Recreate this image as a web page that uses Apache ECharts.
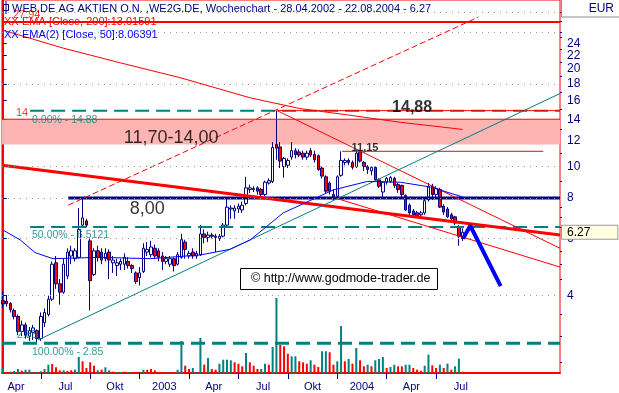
<!DOCTYPE html>
<html><head><meta charset="utf-8">
<script src="https://cdn.jsdelivr.net/npm/echarts@6/dist/echarts.min.js"></script>
<style>html,body{margin:0;padding:0;background:#fff}#c{width:619px;height:393px}</style>
</head><body><div id="c"></div>
<script>
// ---------- DATA ----------
const startDate = '2002-04-28';           // first weekly candle
const quarterStarts = ['2002-04-01','2002-07-01','2002-10-01','2003-01-01','2003-04-01','2003-07-01','2003-10-01','2004-01-01','2004-04-01','2004-07-01','2004-10-01'];
const quarterLabels = ['Apr','Jul','Okt','2003','Apr','Jul','Okt','2004','Apr','Jul'];
const yTickLabels = [4,6,8,10,12,14,16,18,20,22,24];
const yMinorTicks = [2.5,3,3.5,4.5,5,5.5,6.5,7,7.5,9,11,13,15,17,19,21,23,25,26,28,30];
const gridDotLevels = [4,6,8,10,18,26,30];

const open = [
 3.86,3.85,3.78,3.60,3.45,3.10,3.25,3.00,3.08,3.12,
 2.95,3.30,3.50,3.90,5.05,4.35,4.10,4.60,5.30,5.20,
 5.25,6.60,6.80,5.90,4.65,5.50,5.45,5.20,5.45,5.05,
 4.95,5.00,5.00,5.10,4.95,4.70,4.55,4.75,5.45,5.35,
 5.60,5.50,5.30,5.10,5.00,5.20,5.00,5.25,5.85,5.30,
 5.45,5.30,5.35,6.20,6.05,6.15,6.10,6.00,6.10,6.60,
 7.40,7.30,7.40,7.35,7.70,8.50,8.55,8.60,8.50,8.20,
 8.90,9.00,11.70,11.50,10.00,10.10,10.70,11.20,11.10,11.00,
 10.70,11.20,10.90,10.80,9.90,9.30,8.90,8.20,8.10,9.40,
 10.30,10.45,10.30,10.00,11.10,10.30,10.00,9.70,9.95,9.10,
 8.35,8.95,9.00,9.20,8.80,8.75,8.15,7.60,7.30,7.20,
 7.10,7.20,7.90,8.70,8.20,8.50,7.55,7.40,7.10,7.00,
 6.50,6.00];
const high = [
 4.13,4.00,3.82,3.65,3.50,3.35,3.30,3.20,3.25,3.15,
 3.55,3.65,4.00,5.10,5.30,4.50,5.20,5.60,5.70,5.60,
 7.45,7.95,6.90,6.00,5.60,5.70,5.60,5.60,5.55,5.30,
 5.20,5.20,5.40,5.25,5.00,4.75,4.90,5.80,5.85,5.90,
 5.75,5.60,5.45,5.30,5.30,5.25,5.45,6.20,5.95,5.50,
 5.60,5.50,6.60,6.40,6.30,6.25,6.20,6.20,6.70,8.00,
 7.60,7.60,7.70,7.80,9.30,8.80,8.70,8.70,8.60,9.05,
 9.20,11.90,14.88,11.90,10.70,10.60,11.90,11.40,11.30,11.20,
 11.20,11.40,11.20,10.90,10.00,9.40,9.00,8.50,9.40,11.15,
 10.60,10.60,10.45,11.15,11.15,10.40,10.10,10.00,10.00,9.20,
 9.00,9.30,9.35,9.30,8.90,8.80,8.20,7.70,7.40,7.30,
 7.30,8.00,8.90,8.85,8.70,8.60,7.65,7.50,7.20,7.05,
 6.60,6.45];
const low = [
 3.66,3.70,3.55,3.38,3.02,3.00,2.95,2.90,2.92,2.85,
 2.90,3.20,3.45,3.85,4.20,3.75,4.05,4.50,5.00,5.10,
 5.20,6.50,6.50,3.60,4.60,5.10,5.00,5.10,4.50,4.70,
 4.60,4.80,4.80,4.85,4.70,4.35,4.30,4.70,5.30,5.25,
 5.20,5.10,4.80,5.00,4.90,4.75,4.95,5.20,5.20,5.20,
 5.20,5.20,5.30,5.80,5.85,6.00,5.45,5.90,6.05,6.50,
 6.90,6.90,7.20,7.20,7.60,8.30,8.35,8.20,8.00,8.10,
 8.80,8.90,10.50,9.90,9.25,9.90,10.50,10.60,10.70,10.50,
 10.50,10.70,10.30,9.70,9.20,8.30,8.20,7.90,8.00,9.30,
 10.10,10.10,9.80,9.90,10.30,9.70,9.50,9.40,9.05,8.60,
 8.00,8.80,8.90,8.60,8.30,8.00,7.30,7.05,7.00,6.95,
 6.95,7.10,7.80,7.90,8.00,7.45,7.10,6.95,6.80,6.60,
 5.70,5.90];
const close = [
 3.77,3.78,3.62,3.45,3.10,3.25,3.02,3.12,3.18,2.95,
 3.45,3.55,3.90,5.00,4.35,4.10,5.00,5.45,5.50,5.50,
 6.40,6.95,6.60,4.45,5.50,5.25,5.15,5.40,5.15,5.15,
 5.05,5.10,5.25,4.95,4.85,4.42,4.70,5.60,5.55,5.65,
 5.30,5.25,5.10,5.20,5.20,4.95,5.35,5.95,5.55,5.40,
 5.30,5.40,6.20,6.05,6.15,6.10,6.05,6.10,6.60,7.50,
 7.45,7.45,7.55,7.60,8.60,8.60,8.50,8.40,8.20,8.95,
 9.05,11.45,11.40,10.40,10.60,10.45,11.20,10.90,10.85,10.70,
 11.00,10.85,10.50,9.80,9.35,8.40,8.40,8.05,9.30,10.45,
 10.45,10.30,9.95,11.00,10.40,10.00,9.80,9.95,9.10,8.70,
 8.95,9.20,9.25,8.75,8.50,8.20,7.35,7.20,7.10,7.05,
 7.20,7.85,8.65,8.20,8.55,7.50,7.25,7.00,6.90,6.70,
 6.10,6.27];
const volume = [
 50,10,13,20,40,23,33,33,7,10,
 17,40,83,90,57,27,27,20,27,33,
 160,117,50,107,73,27,33,57,27,13,
 7,10,13,10,7,5,5,33,33,40,
 27,5,7,5,5,7,33,320,73,40,
 50,10,350,83,150,40,33,93,133,133,
 127,107,93,67,200,107,73,40,40,93,
 83,260,750,280,267,193,167,167,117,107,
 93,127,83,60,217,217,207,83,117,470,
 117,140,93,250,127,67,83,67,127,140,
 160,50,60,83,67,67,83,83,50,33,
 23,73,183,77,50,83,50,93,33,67,
 143,13];
const volUp = [
 1,0,1,1,1,0,1,1,1,1,
 1,1,1,0,0,0,1,0,0,1,
 1,0,0,0,0,1,0,1,1,0,
 1,1,0,1,0,0,1,1,0,0,
 0,0,0,1,1,0,1,1,0,0,
 1,1,1,0,1,0,0,1,1,1,
 1,0,0,0,1,0,0,0,1,1,
 0,1,1,0,0,0,1,1,0,0,
 0,1,0,0,1,1,0,0,1,1,
 0,1,0,1,0,0,1,0,1,1,
 1,0,1,1,0,0,1,1,0,0,
 0,1,1,0,0,1,0,1,0,1,
 1,0];

// indicator lines: [week index, price]
const ema200Pts = [[-0.2,26.4],[15.9,23.2],[30.9,20.9],[46.7,18.8],[65.1,16.3],[78.2,15.1],[91.4,14.4],[104.6,13.7],[121,13.02]];
const ema50Pts = [[0.1,6.37],[4.6,5.94],[8.5,5.43],[13.2,5.2],[25.6,5.25],[38.8,5.2],[52,5.34],[59.8,5.56],[65.1,5.94],[73.8,7.2],[78.2,7.6],[86.9,8.47],[95.9,9.0],[104.6,8.95],[112.5,8.65],[121,8.06]];

// drawn levels / trend lines
const resistance2794 = 27.94;
const zone = [11.70, 14.00];
const peakValue = 14.88, peakIdx = 72.2;
const level1115 = {from: 89.3, to: 142.2, value: 11.15};
const support800 = {from: 17.2, value: 8.00};
const fibLevels = [{text:'0.00% - 14.88', value:14.88, from:7.2}, {text:'50.00% - 6.5121', value:6.5121, from:7.2}, {text:'100.00% - 2.85', value:2.85, from:-0.2}];
const trendDownThick = [[-0.2,10.1],[146.6,6.15]];
const trendUpDashed = [[17.2,7.6],[125.1,28.9]];
const channelUpper = [[72.2,14.88],[146.6,5.6]];
const channelLower = [[87.5,8.0],[146.6,4.9]];
const trendUpTeal = [[9.3,2.92],[146.6,16.8]];
const arrowPath = [[121.1,6.0],[123,6.57],[131,4.28]];
const lastClose = 6.27;

// ---------- CHART ----------
const X_MIN = -0.2, X_MAX = 146.6;
const FONT = '"Liberation Sans", Arial, sans-serif';
const NAVY = '#000080', TEAL = '#008080', RED = '#ff0000';

const d0 = Date.parse(startDate);
const qIdx = quarterStarts.map(s => Math.ceil((Date.parse(s) - d0) / (7 * 864e5)));
const tickIdx = qIdx.slice(1, -1);
const labelIdx = quarterLabels.map((_, k) => (qIdx[k] + qIdx[k + 1]) / 2);

const candleData = close.map((c, i) => [i, open[i], c, low[i], high[i]]);
const volData = volume.map((v, i) => ({value: [i, v], itemStyle: {color: volUp[i] ? TEAL : RED}}));

function seg(data, color, width, type, z) {
  return {type: 'line', data: data, xAxisIndex: 0, yAxisIndex: 0, showSymbol: false, symbol: 'none',
    silent: true, animation: false, z: z || 4, lineStyle: {color: color, width: width, type: type || 'solid'}};
}
function ann(idx, val, text, opt) {
  return {value: [idx, val], label: Object.assign({show: true, position: 'inside', formatter: text, fontFamily: FONT}, opt)};
}

const series = [];
// pink zone + dotted grid
series.push({type: 'line', data: [[X_MIN, 8]], showSymbol: false, silent: true, z: 0, lineStyle: {width: 0},
  markArea: {silent: true, itemStyle: {color: '#ffb4b4'}, data: [[{yAxis: zone[0]}, {yAxis: zone[1]}]]},
  markLine: {silent: true, symbol: ['none','none'], animation: false, label: {show: false},
    lineStyle: {color: '#9a9a9a', type: [1, 5], width: 1}, data: gridDotLevels.map(v => ({yAxis: v}))}});
// volume
series.push({type: 'bar', xAxisIndex: 1, yAxisIndex: 1, data: volData, barWidth: 2, silent: true, z: 1, animation: false});
// candles
series.push({type: 'candlestick', xAxisIndex: 0, yAxisIndex: 0, data: candleData, barWidth: 3, z: 3, animation: false,
  encode: {x: 0, y: [1, 2, 3, 4]},
  itemStyle: {color: '#ffffff', color0: RED, borderColor: NAVY, borderColor0: NAVY, borderWidth: 1},
  markLine: {silent: true, symbol: ['none','none'], animation: false, lineStyle: {width: 0, color: 'transparent'},
    label: {show: true, position: 'end', distance: 2, formatter: String(lastClose), color: '#000', fontSize: 12, fontFamily: FONT,
      backgroundColor: '#ffffe1', borderColor: '#9a9a9a', borderWidth: 1, padding: [1, 27, 0, 5]},
    data: [{yAxis: lastClose}]}});
// levels
series.push(seg([[X_MIN, resistance2794], [X_MAX, resistance2794]], RED, 2));
series.push(seg([[X_MIN, zone[1]], [X_MAX, zone[1]]], RED, 1));
fibLevels.forEach((f, k) => series.push(seg([[f.from, f.value], [X_MAX, f.value]], TEAL, k === 2 ? 3 : 2, [14, 7])));
series.push(seg([[peakIdx, peakValue], [X_MAX, peakValue]], RED, 1));
series.push(seg([[level1115.from, level1115.value], [level1115.to, level1115.value]], RED, 1));
series.push(seg([[support800.from, support800.value], [X_MAX, support800.value]], NAVY, 3));
series.push(seg(trendDownThick, RED, 3));
series.push(seg(trendUpDashed, RED, 1, [6, 3]));
series.push(seg(channelUpper, RED, 1));
series.push(seg(channelLower, RED, 1));
series.push(seg(trendUpTeal, TEAL, 1));
series.push(seg(ema200Pts, RED, 1));
series.push(seg(ema50Pts, '#0000ff', 1));
series.push(seg(arrowPath, '#0000ff', 4, 'solid', 6));
// annotations
const black18 = {color: '#000', fontSize: 18};
series.push({type: 'scatter', xAxisIndex: 0, yAxisIndex: 0, symbolSize: 1, itemStyle: {color: 'rgba(0,0,0,0)'}, silent: true, z: 8, animation: false,
  data: [
    ann(6.3, resistance2794, '27,94', {color: RED, fontSize: 11, align: 'center', verticalAlign: 'bottom', offset: [0, -1]}),
    ann(6.7, zone[1], '14', {color: RED, fontSize: 11, align: 'right', verticalAlign: 'bottom', offset: [0, -1]}),
    ann(7.7, fibLevels[0].value, fibLevels[0].text, {color: TEAL, fontSize: 10.5, align: 'left', verticalAlign: 'top', offset: [0, 4]}),
    ann(7.7, fibLevels[1].value, fibLevels[1].text, {color: TEAL, fontSize: 10.5, align: 'left', verticalAlign: 'top', offset: [0, 3]}),
    ann(7.7, fibLevels[2].value, fibLevels[2].text, {color: TEAL, fontSize: 10.5, align: 'left', verticalAlign: 'top', offset: [0, 3]}),
    ann(6.4, fibLevels[2].value, '2.85', {color: TEAL, fontSize: 10.5, align: 'center', verticalAlign: 'bottom', offset: [0, -3]}),
    ann(44.3, zone[0], '11,70-14,00', Object.assign({align: 'center', verticalAlign: 'bottom', offset: [0, 3]}, black18)),
    ann(38, support800.value, '8,00', Object.assign({align: 'center', verticalAlign: 'top', offset: [0, 2]}, black18)),
    ann(107.7, peakValue, '14,88', {color: '#000', fontSize: 16, fontWeight: 'bold', align: 'center', verticalAlign: 'bottom', offset: [0, 5]}),
    ann(95.3, level1115.value, '11,15', {color: '#000', fontSize: 11, fontWeight: 'bold', align: 'center', verticalAlign: 'bottom', offset: [0, 2]})
  ]});

const option = {
  animation: false,
  backgroundColor: '#ffffff',
  textStyle: {fontFamily: FONT},
  grid: [
    {left: 2, right: 59, top: 0, bottom: 20, show: true, borderColor: RED, borderWidth: 1, backgroundColor: 'transparent', containLabel: false, outerBoundsMode: 'none'},
    {left: 2, right: 59, top: 298, bottom: 20, show: false, containLabel: false, outerBoundsMode: 'none'}
  ],
  xAxis: [
    {type: 'value', gridIndex: 0, min: X_MIN, max: X_MAX, position: 'bottom',
      axisLine: {show: true, onZero: false, lineStyle: {color: RED, width: 2}},
      axisTick: {show: true, customValues: tickIdx, length: 6, lineStyle: {color: NAVY}},
      axisLabel: {show: true, customValues: labelIdx, margin: 8, color: NAVY, fontSize: 11, fontFamily: FONT,
        formatter: v => { const k = labelIdx.findIndex(m => Math.abs(m - v) < 0.01); return k >= 0 ? quarterLabels[k] : ''; }},
      splitLine: {show: false}},
    {type: 'value', gridIndex: 1, min: X_MIN, max: X_MAX, show: false, splitLine: {show: false}}
  ],
  yAxis: [
    {type: 'log', logBase: 10, gridIndex: 0, min: 2.309, max: 32.65, position: 'right',
      axisLine: {show: true, lineStyle: {color: RED, width: 2}},
      axisTick: {show: true, customValues: yTickLabels, length: 4, lineStyle: {color: NAVY}},
      axisLabel: {show: true, customValues: yTickLabels, margin: 7, color: NAVY, fontSize: 12, fontFamily: FONT, formatter: v => String(Math.round(v))},
      splitLine: {show: false}, minorTick: {show: false}},
    {type: 'value', gridIndex: 1, min: 0, max: 750, show: false, splitLine: {show: false}},
    {type: 'log', logBase: 10, gridIndex: 0, min: 2.309, max: 32.65, position: 'right', offset: 0,
      axisLine: {show: false}, axisTick: {show: true, customValues: yMinorTicks, length: 2, lineStyle: {color: NAVY}},
      axisLabel: {show: false}, splitLine: {show: false}}
  ],
  series: series,
  graphic: [
    {type: 'rect', shape: {x: 3.5, y: 4.5, width: 5, height: 6}, style: {fill: '#fff', stroke: NAVY, lineWidth: 1}, z: 100},
    {type: 'line', shape: {x1: 6, y1: 1, x2: 6, y2: 14}, style: {stroke: NAVY, lineWidth: 1}, z: 100},
    {type: 'text', x: 12, y: 9, style: {text: 'WEB.DE AG AKTIEN O.N. ,WE2G.DE, Wochenchart - 28.04.2002 - 22.08.2004 - 6.27', fill: NAVY, fontSize: 11, fontFamily: FONT, verticalAlign: 'middle'}, z: 100},
    {type: 'text', x: 4, y: 22, style: {text: 'XX', fill: RED, fontSize: 11, fontFamily: FONT, verticalAlign: 'middle'}, z: 100},
    {type: 'text', x: 22, y: 22, style: {text: 'EMA [Close, 200]:13.01591', fill: RED, fontSize: 11, fontFamily: FONT, verticalAlign: 'middle'}, z: 100},
    {type: 'text', x: 4, y: 35, style: {text: 'XX', fill: '#0000ff', fontSize: 11, fontFamily: FONT, verticalAlign: 'middle'}, z: 100},
    {type: 'text', x: 22, y: 35, style: {text: 'EMA(2) [Close, 50]:8.06391', fill: '#0000ff', fontSize: 11, fontFamily: FONT, verticalAlign: 'middle'}, z: 100},
    {type: 'rect', shape: {x: 561.5, y: -1, width: 60, height: 18}, style: {fill: '#fff', stroke: '#8a8a8a', lineWidth: 1}, z: 100},
    {type: 'text', x: 614, y: 9, style: {text: 'EUR', fill: NAVY, fontSize: 12, fontFamily: FONT, align: 'right', verticalAlign: 'middle'}, z: 101},
    {type: 'rect', shape: {x: 240.5, y: 268.5, width: 197, height: 21}, style: {fill: '#fff', stroke: '#000', lineWidth: 1}, z: 100},
    {type: 'text', x: 251, y: 279, style: {text: '\u00a9 http://www.godmode-trader.de', fill: '#000', fontSize: 12.5, fontFamily: FONT, verticalAlign: 'middle'}, z: 101}
  ]
};
const chart = echarts.init(document.getElementById('c'), null, {renderer: 'canvas', width: 619, height: 393});
chart.setOption(option);
</script>
</body></html>
